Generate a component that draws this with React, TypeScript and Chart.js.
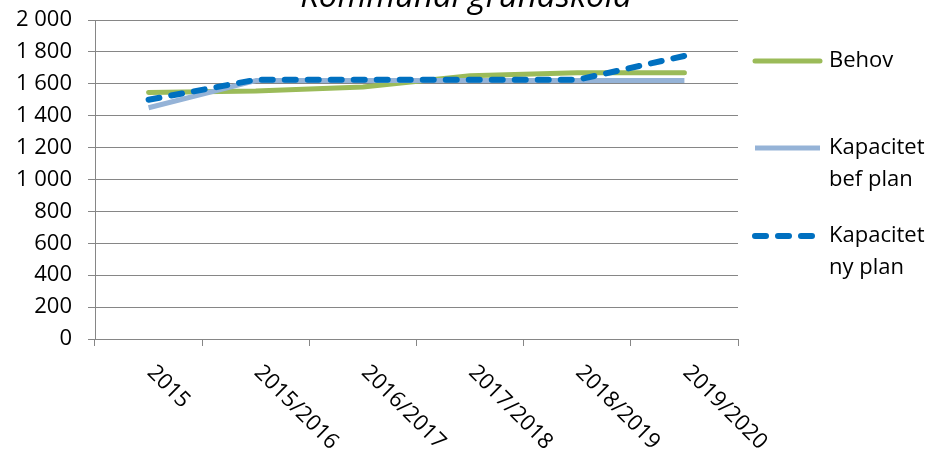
import React, { useEffect, useRef } from 'react';
import { Chart, registerables } from 'chart.js';

Chart.register(...registerables);

const TITLE = 'Kommunal grundskola';
const CATEGORIES = ['2015', '2015/2016', '2016/2017', '2017/2018', '2018/2019', '2019/2020'];
const BEHOV = [1545, 1555, 1580, 1650, 1670, 1670];
const KAP_BEF_PLAN = [1450, 1620, 1620, 1620, 1620, 1620];
const KAP_NY_PLAN = [1500, 1625, 1625, 1625, 1625, 1775];
const SERIES_NAMES = ['Behov', 'Kapacitet bef plan', 'Kapacitet ny plan'];
const LEGEND_LINES = [['Behov'], ['Kapacitet', 'bef plan'], ['Kapacitet', 'ny plan']];
const Y_MIN = 0;
const Y_MAX = 2000;
const Y_STEP = 200;

const GREEN = '#9BBB59';
const LIGHT_BLUE = '#95B3D7';
const DARK_BLUE = '#0070C0';
const GRID = '#868686';
const FONT_FAMILY = '"Open Sans", "DejaVu Sans", sans-serif';
const FONT_SIZE = 22;
const DASH = [11, 12];

const fmt = (v: number) => String(v).replace(/\B(?=(\d{3})+(?!\d))/g, ' ');

const extrasPlugin = {
  id: 'extras',
  afterDraw(chart: any) {
    const ctx = chart.ctx as CanvasRenderingContext2D;
    const xScale = chart.scales.x;
    ctx.save();
    ctx.fillStyle = '#000';
    ctx.font = `italic 33px ${FONT_FAMILY}`;
    ctx.textAlign = 'center';
    ctx.textBaseline = 'alphabetic';
    ctx.fillText(TITLE, 466, 7);

    ctx.font = `${FONT_SIZE}px ${FONT_FAMILY}`;
    ctx.textAlign = 'left';
    ctx.textBaseline = 'middle';
    CATEGORIES.forEach((c, i) => {
      const x = xScale.getPixelForValue(i);
      ctx.save();
      ctx.translate(x + 2, 369);
      ctx.rotate(Math.PI / 4);
      ctx.fillText(c, 0, 0);
      ctx.restore();
    });

    const items = [
      { color: GREEN, dash: [] as number[], cap: 'round', y: 61, lines: LEGEND_LINES[0] },
      { color: LIGHT_BLUE, dash: [] as number[], cap: 'butt', y: 148, lines: LEGEND_LINES[1] },
      { color: DARK_BLUE, dash: DASH, cap: 'round', y: 236, lines: LEGEND_LINES[2] },
    ];
    items.forEach((it, idx) => {
      ctx.save();
      ctx.strokeStyle = it.color;
      ctx.lineWidth = idx === 2 ? 6 : 5;
      ctx.lineCap = it.cap as CanvasLineCap;
      ctx.setLineDash(it.dash);
      ctx.beginPath();
      const x0 = 755;
      const x1 = idx === 2 ? 813 : 820;
      ctx.moveTo(x0, it.y);
      ctx.lineTo(x1, it.y);
      ctx.stroke();
      ctx.restore();
      ctx.fillStyle = '#000';
      it.lines.forEach((t, j) => {
        ctx.fillText(t, 829, it.y + j * 32);
      });
    });
    ctx.restore();
  },
};

export default function App() {
  const ref = useRef<HTMLCanvasElement | null>(null);
  useEffect(() => {
    if (!ref.current) return;
    const chart = new Chart(ref.current, {
      type: 'line',
      data: {
        labels: CATEGORIES,
        datasets: [
          {
            label: SERIES_NAMES[0],
            data: BEHOV,
            borderColor: GREEN,
            backgroundColor: GREEN,
            borderWidth: 5,
            pointRadius: 0,
            tension: 0,
            borderJoinStyle: 'round',
            borderCapStyle: 'round',
            order: 3,
          },
          {
            label: SERIES_NAMES[1],
            data: KAP_BEF_PLAN,
            borderColor: LIGHT_BLUE,
            backgroundColor: LIGHT_BLUE,
            borderWidth: 5,
            pointRadius: 0,
            tension: 0,
            borderJoinStyle: 'round',
            order: 2,
          },
          {
            label: SERIES_NAMES[2],
            data: KAP_NY_PLAN,
            borderColor: DARK_BLUE,
            backgroundColor: DARK_BLUE,
            borderWidth: 6,
            borderDash: DASH,
            borderCapStyle: 'round',
            borderJoinStyle: 'round',
            pointRadius: 0,
            tension: 0,
            order: 1,
          },
        ],
      },
      options: {
        responsive: false,
        animation: false,
        layout: { padding: { top: 20, right: 197, bottom: 110, left: 0 } },
        plugins: {
          legend: { display: false },
          title: { display: false },
          tooltip: { enabled: false },
        },
        scales: {
          x: {
            type: 'category',
            offset: true,
            ticks: { display: false },
            grid: { drawOnChartArea: false, drawTicks: true, tickLength: 7, color: GRID, offset: true },
            border: { color: GRID },
            afterFit: (s: any) => {
              s.height = 7;
              s.paddingLeft = 0;
              s.paddingRight = 0;
            },
          },
          y: {
            min: Y_MIN,
            max: Y_MAX,
            ticks: {
              stepSize: Y_STEP,
              color: '#000',
              padding: 16,
              font: { family: FONT_FAMILY, size: FONT_SIZE },
              callback: (v: any) => fmt(Number(v)),
            },
            grid: { color: GRID, tickLength: 7, drawTicks: true },
            border: { color: GRID },
            afterFit: (s: any) => {
              s.width = 95;
              s.paddingTop = 0;
              s.paddingBottom = 0;
            },
          },
        },
      },
      plugins: [extrasPlugin],
    });
    return () => chart.destroy();
  }, []);
  return (
    <div style={{ position: 'absolute', left: 0, top: 0, width: 935, height: 456 }}>
      <canvas ref={ref} width={935} height={456} style={{ display: 'block' }} />
    </div>
  );
}
